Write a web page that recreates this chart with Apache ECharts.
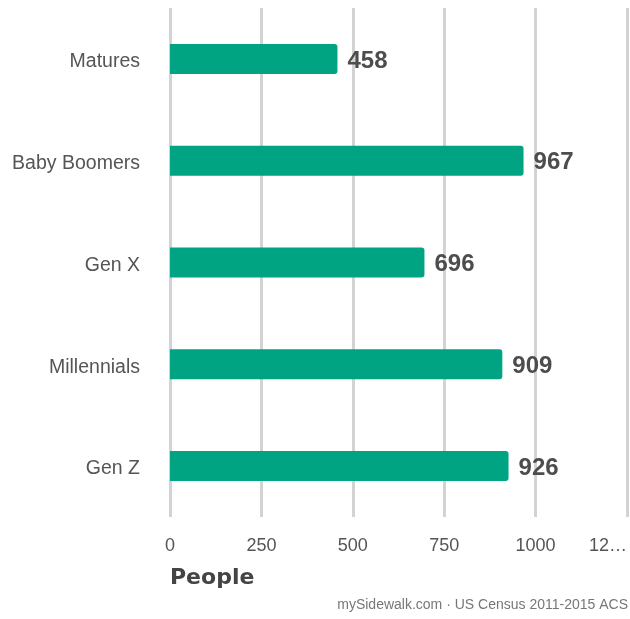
<!DOCTYPE html>
<html>
<head>
<meta charset="utf-8">
<script src="https://cdn.jsdelivr.net/npm/echarts@6/dist/echarts.min.js"></script>
<style>html,body{margin:0;padding:0;background:#fff;}#c{width:630px;height:619px;}</style>
</head>
<body>
<div id="c"></div>
<script>
var categories = ['Matures', 'Baby Boomers', 'Gen X', 'Millennials', 'Gen Z'];
var values = [458, 967, 696, 909, 926];
var tickLabels = {0: '0', 250: '250', 500: '500', 750: '750', 1000: '1000', 1250: '12…'};
var axisTitle = 'People';
var sourceText = 'mySidewalk.com · US Census 2011-2015 ACS';

var chart = echarts.init(document.getElementById('c'), null, {renderer: 'canvas'});
var font = '"Liberation Sans", Arial, sans-serif';
chart.setOption({
  animation: false,
  grid: {left: 170, right: 2, top: 8, bottom: 102, containLabel: false},
  xAxis: {
    type: 'value', min: 0, max: 1250, interval: 250,
    axisLine: {show: false}, axisTick: {show: false},
    splitLine: {show: true, lineStyle: {color: '#d3d3d3', width: 3}},
    axisLabel: {
      color: '#555', fontSize: 18, fontFamily: font, margin: 20,
      alignMaxLabel: 'right',
      formatter: function (v) { return tickLabels[v] !== undefined ? tickLabels[v] : String(v); }
    }
  },
  yAxis: {
    type: 'category', data: categories, inverse: true,
    axisLine: {show: false}, axisTick: {show: false},
    axisLabel: {
      margin: 30,
      formatter: function (v) { return '{c|' + v + '}'; },
      rich: {c: {color: '#555', fontSize: 19.5, fontFamily: font, padding: [6, 0, 0, 0]}}
    }
  },
  series: [{
    type: 'bar', data: values, barWidth: 30,
    itemStyle: {color: '#00a382', borderRadius: [0, 3, 3, 0]},
    label: {show: true, position: 'right', distance: 10, offset: [0, 2], color: '#4d4d4d', fontSize: 24, fontWeight: 'bold', fontFamily: font}
  }],
  graphic: [
    {type: 'text', left: 170, top: 567, style: {text: axisTitle, fill: '#444', font: 'bold 22px "DejaVu Sans", sans-serif'}},
    {type: 'text', right: 2, top: 598, style: {text: sourceText, fill: '#777', font: '14px ' + font}}
  ]
});
</script>
</body>
</html>
